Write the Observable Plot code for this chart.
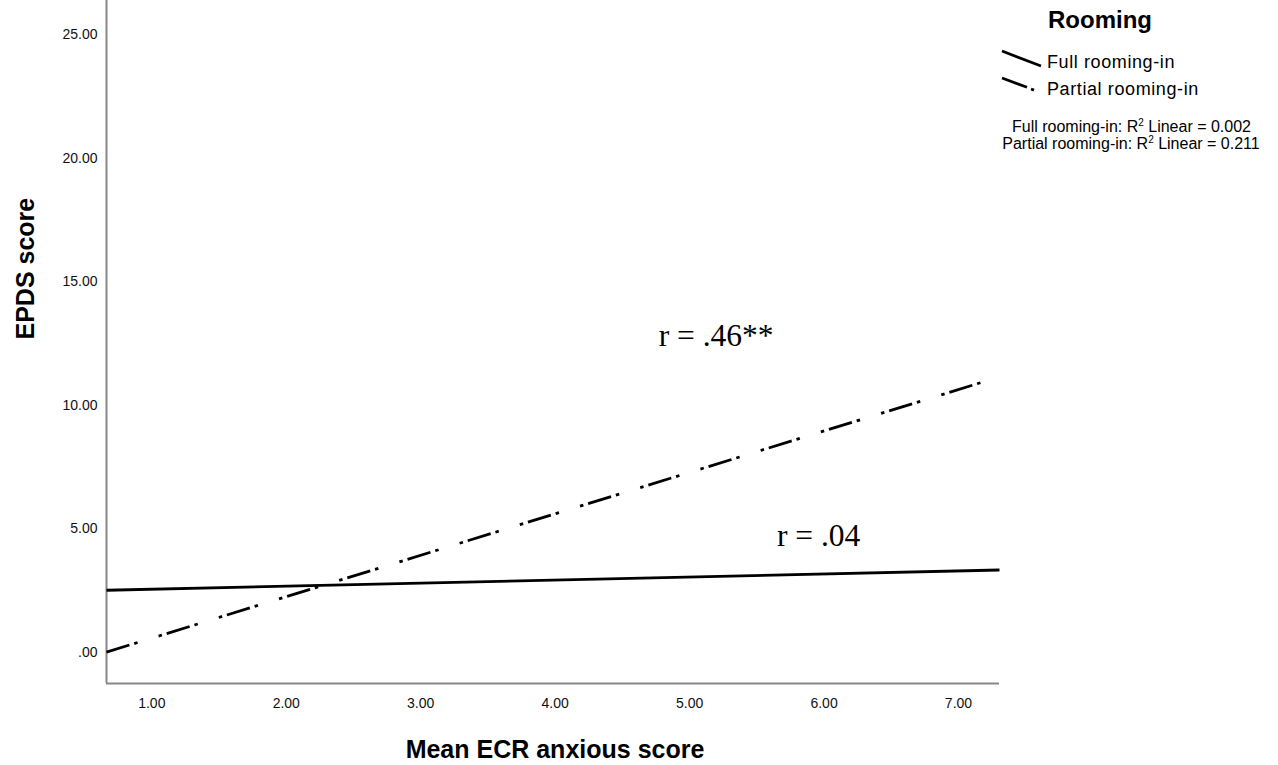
<!DOCTYPE html>
<html>
<head>
<meta charset="utf-8">
<script src="https://cdn.jsdelivr.net/npm/d3@7"></script>
<script src="https://cdn.jsdelivr.net/npm/@observablehq/plot@0.6"></script>
<style>
html, body { margin: 0; padding: 0; background: #fff; }
#wrap { position: relative; width: 1278px; height: 765px; overflow: hidden; }
#legend { position: absolute; left: 0; top: 0; pointer-events: none; }
</style>
</head>
<body>
<div id="wrap"></div>
<script>
// ---- data ----
const seriesNames = ["Full rooming-in", "Partial rooming-in"];
const lineX = [0.663, 7.305];          // fit lines span the x range
const fullY = [2.52, 3.34];            // Full rooming-in fit line
const partialY = [0.02, 11.15];        // Partial rooming-in fit line
const r2Values = ["0.002", "0.211"];

const xTicks = [1, 2, 3, 4, 5, 6, 7];
const xTickLabels = ["1.00", "2.00", "3.00", "4.00", "5.00", "6.00", "7.00"];
const yTicks = [0, 5, 10, 15, 20, 25];
const yTickLabels = [".00", "5.00", "10.00", "15.00", "20.00", "25.00"];
const xDomain = [0.663, 7.305];
const yDomain = [-1.25, 26.37];

const annotTexts = ["r = .46**", "r = .04"];
const annotX = [5.197, 5.96];
const annotY = [12.40, 4.31];

const xTitle = "Mean ECR anxious score";
const yTitle = "EPDS score";
const legendTitle = "Rooming";

// ---- tables built from the arrays ----
const seriesY = [fullY, partialY];
const lineRows = seriesNames.flatMap((s, i) => lineX.map((x, j) => ({series: s, x, y: seriesY[i][j]})));
const annots = annotTexts.map((t, i) => ({text: t, x: annotX[i], y: annotY[i]}));

const sans = "'Liberation Sans', Arial, Helvetica, sans-serif";

const chart = Plot.plot({
  width: 1278,
  height: 765,
  marginLeft: 106,
  marginRight: 279,
  marginTop: 0,
  marginBottom: 82,
  style: {background: "#fff", fontFamily: sans, fontSize: "14px", color: "#111"},
  x: {domain: xDomain, ticks: xTicks, tickFormat: d => xTickLabels[xTicks.indexOf(d)], tickSize: 0, tickPadding: 15, label: null},
  y: {domain: yDomain, ticks: yTicks, tickFormat: d => yTickLabels[yTicks.indexOf(d)], tickSize: 0, tickPadding: 9, label: null},
  marks: [
    Plot.ruleX([xDomain[0]], {stroke: "#888", strokeWidth: 2}),
    Plot.ruleY([yDomain[0]], {stroke: "#888", strokeWidth: 2}),
    Plot.line(lineRows.filter(d => d.series === seriesNames[0]), {
      x: "x", y: "y", stroke: "#000", strokeWidth: 2.8, strokeLinecap: "butt"
    }),
    Plot.line(lineRows.filter(d => d.series === seriesNames[1]), {
      x: "x", y: "y", stroke: "#000", strokeWidth: 2.8, strokeLinecap: "butt",
      strokeDasharray: "24,5,3.5,22,3.5,5"
    }),
    Plot.text(annots, {
      x: "x", y: "y", text: "text", fontFamily: "'Liberation Serif', 'Times New Roman', serif",
      fontSize: 31.5, lineAnchor: "bottom", textAnchor: "middle", fill: "#000"
    }),
    Plot.text([xTitle], {
      text: d => d, frameAnchor: "bottom", dx: 2, dy: 74, lineAnchor: "bottom",
      fontWeight: "bold", fontSize: 25, fill: "#000", fontFamily: sans
    }),
    Plot.text([yTitle], {
      text: d => d, frameAnchor: "left", dx: -73, dy: -2.5, rotate: -90, lineAnchor: "bottom",
      fontWeight: "bold", fontSize: 25, fill: "#000", fontFamily: sans
    })
  ]
});

const wrap = document.getElementById("wrap");
wrap.appendChild(chart);

// ---- legend (outside the plotting frame, top right) ----
const legend = document.createElement("div");
legend.id = "legend";
legend.innerHTML = `
<svg width="1278" height="170" xmlns="http://www.w3.org/2000/svg" style="font-family:${sans.replace(/'/g, "&apos;")}">
  <text x="1048" y="28" font-size="24" font-weight="bold" fill="#000">${legendTitle}</text>
  <line x1="1002" y1="51" x2="1041" y2="66" stroke="#000" stroke-width="2.8"/>
  <line x1="1002" y1="78" x2="1027" y2="87.3" stroke="#000" stroke-width="2.8"/>
  <line x1="1031" y1="89" x2="1034" y2="90.1" stroke="#000" stroke-width="2.8"/>
  <text x="1047" y="68" font-size="18" letter-spacing="0.6" fill="#000">${seriesNames[0]}</text>
  <text x="1047" y="95" font-size="18" letter-spacing="0.6" fill="#000">${seriesNames[1]}</text>
  <text x="1131.5" y="131.5" font-size="16" text-anchor="middle" fill="#000">${seriesNames[0]}: R<tspan font-size="10" dy="-6">2</tspan><tspan dy="6"> Linear = ${r2Values[0]}</tspan></text>
  <text x="1131" y="149" font-size="16" text-anchor="middle" fill="#000">${seriesNames[1]}: R<tspan font-size="10" dy="-6">2</tspan><tspan dy="6"> Linear = ${r2Values[1]}</tspan></text>
</svg>`;
wrap.appendChild(legend);
</script>
</body>
</html>
